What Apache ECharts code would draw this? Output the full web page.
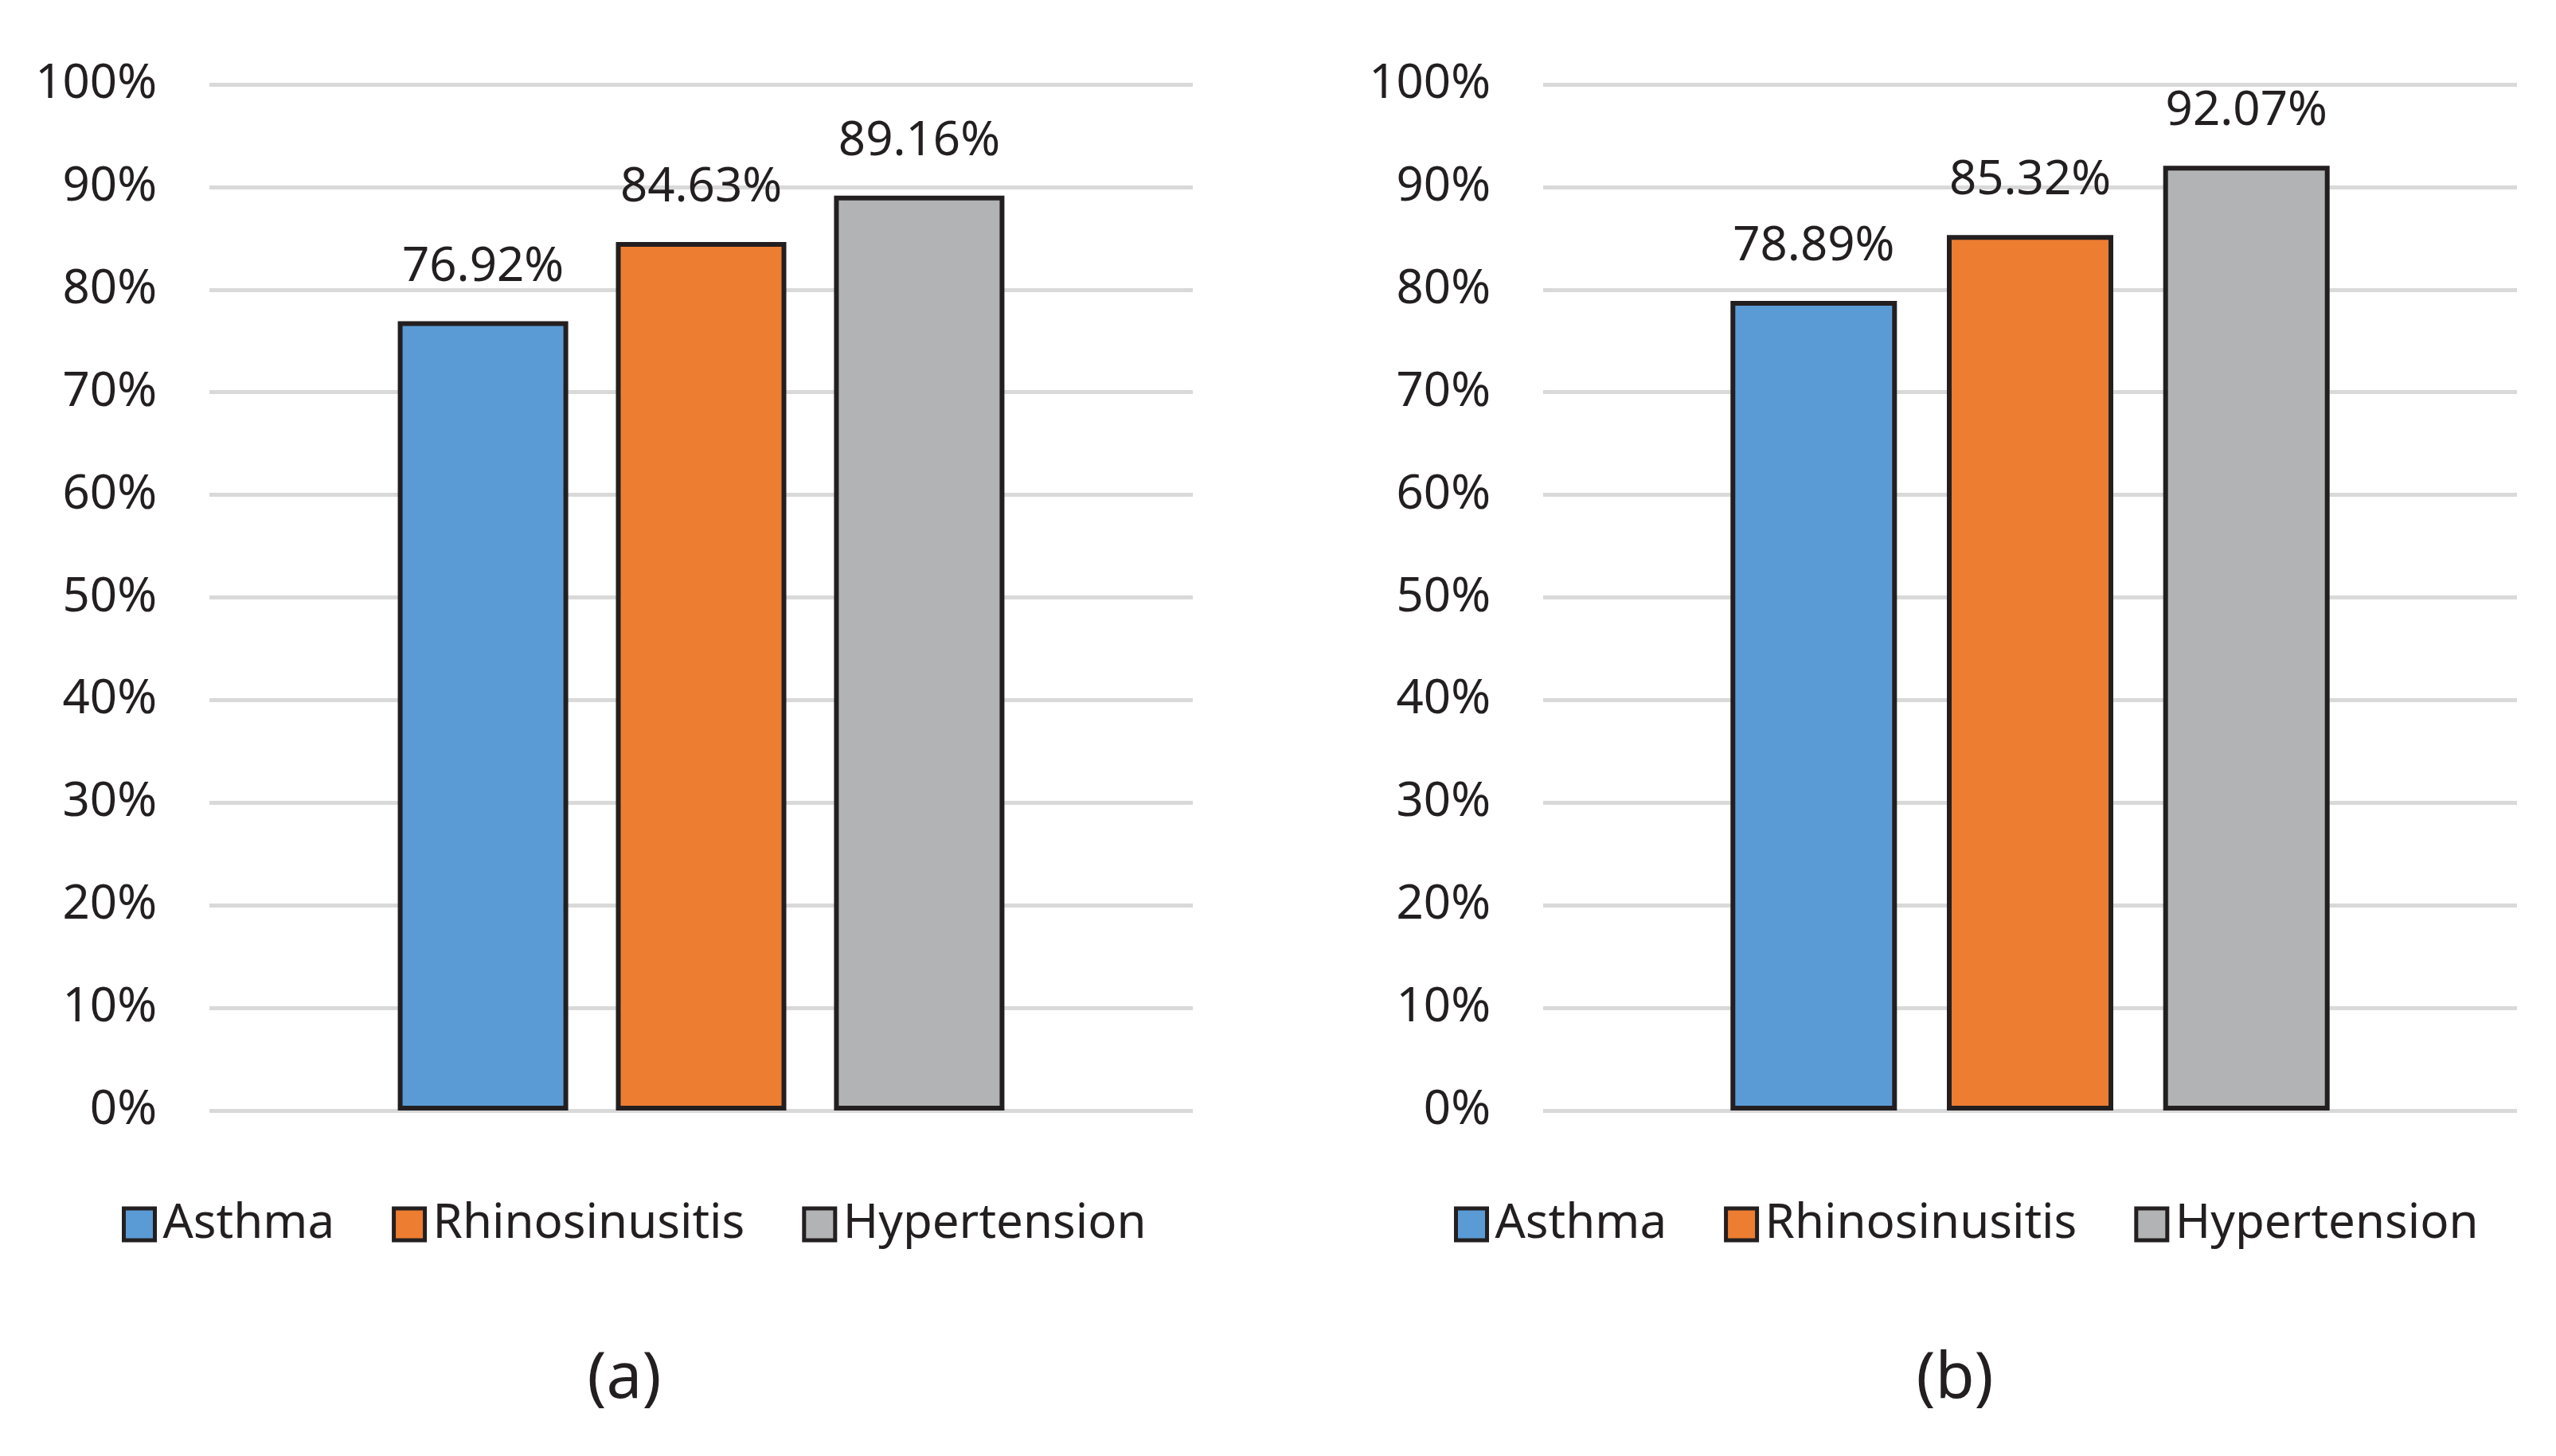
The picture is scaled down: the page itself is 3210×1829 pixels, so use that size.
<!DOCTYPE html>
<html>
<head>
<meta charset="utf-8">
<script src="https://cdn.jsdelivr.net/npm/echarts@6/dist/echarts.min.js"></script>
<style>
html,body{margin:0;padding:0;background:#fff;}
#chart{width:3210px;height:1829px;}
</style>
</head>
<body>
<div id="chart"></div>
<script>
const seriesNames = ['Asthma', 'Rhinosinusitis', 'Hypertension'];
const categories = [''];
const valuesA = [76.92, 84.63, 89.16];
const valuesB = [78.89, 85.32, 92.07];
const captions = ['(a)', '(b)'];
const colors = ['#5b9bd5', '#ed7d31', '#b2b3b4'];

const FONT = 'Noto Sans';
const TXT = '#231f20';

function yAxisCfg(gridIndex) {
  return {
    type: 'value', gridIndex: gridIndex, min: 0, max: 100, interval: 10,
    axisLine: {show: false}, axisTick: {show: false},
    axisLabel: {formatter: '{value}%', fontFamily: FONT, fontSize: 60, color: TXT, margin: 66},
    splitLine: {lineStyle: {color: '#d9d9d9', width: 5}}
  };
}
function xAxisCfg(gridIndex) {
  return {
    type: 'category', gridIndex: gridIndex, data: categories,
    axisLine: {show: false}, axisTick: {show: false}, axisLabel: {show: false}
  };
}
function makeSeries(values, idx, bw, gap) {
  return values.map((v, i) => ({
    name: seriesNames[i], type: 'bar', xAxisIndex: idx, yAxisIndex: idx,
    data: [v], barWidth: bw, barGap: gap,
    itemStyle: {color: colors[i], borderColor: TXT, borderWidth: 6},
    label: {show: true, position: 'top', distance: 38, fontFamily: FONT, fontSize: 60, color: TXT,
      formatter: p => p.value.toFixed(2) + '%'}
  }));
}
function legendCfg(left) {
  return {
    left: left, top: 1503, orient: 'horizontal',
    data: seriesNames, itemWidth: 39, itemHeight: 40, itemGap: 72,
    icon: 'rect', selectedMode: false,
    itemStyle: {borderColor: TXT, borderWidth: 5},
    textStyle: {fontFamily: FONT, fontSize: 60, color: TXT, padding: [0, 0, 0, 5], lineHeight: 44}
  };
}

const chart = echarts.init(document.getElementById('chart'));
chart.setOption({
  backgroundColor: '#fff',
  animation: false,
  grid: [
    {left: 263, top: 106, width: 1235, height: 1289},
    {left: 1938, top: 106, width: 1223, height: 1289}
  ],
  xAxis: [xAxisCfg(0), xAxisCfg(1)],
  yAxis: [yAxisCfg(0), yAxisCfg(1)],
  legend: [legendCfg(148), legendCfg(1821)],
  series: makeSeries(valuesA, 0, 214, '28%').concat(makeSeries(valuesB, 1, 209, '30%')),
  graphic: [
    {type: 'text', x: 784, y: 1733, style: {text: captions[0], font: '80px "Noto Sans"', fill: TXT, align: 'center', verticalAlign: 'middle'}},
    {type: 'text', x: 2455, y: 1733, style: {text: captions[1], font: '80px "Noto Sans"', fill: TXT, align: 'center', verticalAlign: 'middle'}}
  ]
});
</script>
</body>
</html>
